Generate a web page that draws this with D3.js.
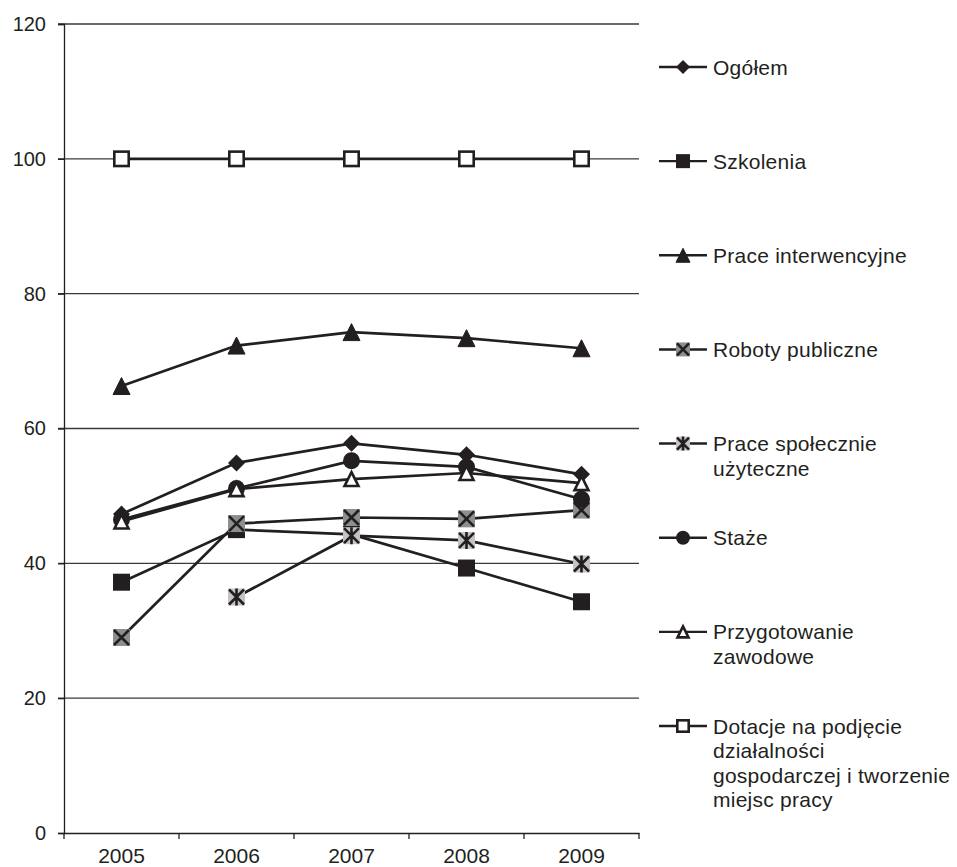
<!DOCTYPE html>
<html>
<head>
<meta charset="utf-8">
<script src="https://cdn.jsdelivr.net/npm/d3@7"></script>
<style>
  body { margin: 0; background: #fff; }
  svg { display: block; font-family: "Liberation Sans", Arial, sans-serif; }
  .grid line { stroke: #3a3a3a; stroke-width: 1.3; }
  .tick text { fill: #231f20; }
</style>
</head>
<body>
<svg width="957" height="867"></svg>
<script>
const years = ["2005", "2006", "2007", "2008", "2009"];
const yTicks = [0, 20, 40, 60, 80, 100, 120];

const seriesNames = [
  "Ogółem", "Szkolenia", "Prace interwencyjne", "Roboty publiczne",
  "Prace społecznie użyteczne", "Staże", "Przygotowanie zawodowe",
  "Dotacje na podjęcie działalności gospodarczej i tworzenie miejsc pracy"
];
// legend text as it wraps in the picture
const legendLines = [
  ["Ogółem"], ["Szkolenia"], ["Prace interwencyjne"], ["Roboty publiczne"],
  ["Prace społecznie", "użyteczne"], ["Staże"], ["Przygotowanie", "zawodowe"],
  ["Dotacje na podjęcie", "działalności", "gospodarczej i tworzenie", "miejsc pracy"]
];

const ogolem       = [47.3, 54.9, 57.8, 56.1, 53.2];
const szkolenia    = [37.2, 45.0, 44.3, 39.3, 34.3];
const interwencyjne= [66.3, 72.3, 74.3, 73.4, 71.9];
const roboty       = [29.0, 45.9, 46.8, 46.6, 47.9];
const spoleczne    = [null, 35.0, 44.1, 43.4, 39.9];
const staze        = [46.5, 51.1, 55.2, 54.3, 49.5];
const przygotowanie= [46.2, 51.0, 52.5, 53.4, 51.9];
const dotacje      = [100, 100, 100, 100, 100];

const seriesValues = [ogolem, szkolenia, interwencyjne, roboty, spoleczne, staze, przygotowanie, dotacje];
const markerTypes = ["diamond", "square", "triangle", "xbox", "star", "circle", "triangleOpen", "squareOpen"];

const ink = "#231f20";
const svg = d3.select("svg");

const x = d3.scaleBand().domain(years).range([64, 639]);
const y = d3.scaleLinear().domain([0, 120]).range([833, 24]);

// gridlines
svg.append("g").attr("class", "grid")
  .selectAll("line").data(yTicks.filter(d => d > 0)).enter().append("line")
  .attr("x1", 58).attr("x2", 639)
  .attr("y1", d => y(d)).attr("y2", d => y(d));

// y axis
const yAxis = svg.append("g").attr("transform", "translate(64,0)")
  .call(d3.axisLeft(y).tickValues(yTicks).tickSize(6).tickPadding(12));
yAxis.select(".domain").attr("stroke", ink).attr("stroke-width", 1.3);
yAxis.selectAll(".tick line").attr("stroke", ink).attr("stroke-width", 1.3);
yAxis.selectAll(".tick text").attr("font-size", 20).attr("font-family", "Liberation Sans, Arial, sans-serif");

// x axis: ticks sit between categories
const xAxis = svg.append("g").attr("transform", "translate(0,833)")
  .call(d3.axisBottom(x).tickSize(0).tickPadding(15));
xAxis.select(".domain").attr("stroke", ink).attr("stroke-width", 1.3);
xAxis.selectAll(".tick text").attr("font-size", 21).attr("font-family", "Liberation Sans, Arial, sans-serif");
xAxis.selectAll(".sep").data(years.concat(["end"])).enter().append("line")
  .attr("class", "sep")
  .attr("x1", (d, i) => 64 + i * x.bandwidth()).attr("x2", (d, i) => 64 + i * x.bandwidth())
  .attr("y1", 0).attr("y2", 6)
  .attr("stroke", ink).attr("stroke-width", 1.3);

function drawMarker(g, type, s) {
  const h = s / 2;
  if (type === "diamond") {
    g.append("path").attr("d", `M0,${-h}L${h},0L0,${h}L${-h},0Z`).attr("fill", ink);
  } else if (type === "square") {
    g.append("rect").attr("x", -h).attr("y", -h).attr("width", s).attr("height", s).attr("fill", ink);
  } else if (type === "triangle" || type === "triangleOpen") {
    const open = type === "triangleOpen";
    const hh = open ? h - 1.5 : h;
    g.append("path").attr("d", `M0,${-hh}L${hh},${hh}L${-hh},${hh}Z`)
      .attr("fill", open ? "#fff" : ink)
      .attr("stroke", ink).attr("stroke-width", open ? 2.6 : 1);
  } else if (type === "xbox" || type === "star") {
    g.append("rect").attr("x", -h).attr("y", -h).attr("width", s).attr("height", s)
      .attr("fill", type === "xbox" ? "#8e8e8e" : "#c4c4c4");
    const k = h - 1;
    g.append("path").attr("d", `M${-k},${-k}L${k},${k}M${-k},${k}L${k},${-k}` + (type === "star" ? `M0,${-h}L0,${h}` : ""))
      .attr("stroke", ink).attr("stroke-width", 2.6).attr("fill", "none");
  } else if (type === "circle") {
    g.append("circle").attr("r", h).attr("fill", ink);
  } else if (type === "squareOpen") {
    g.append("rect").attr("x", -h + 1.3).attr("y", -h + 1.3).attr("width", s - 2.6).attr("height", s - 2.6)
      .attr("fill", "#fff").attr("stroke", ink).attr("stroke-width", 2.6);
  }
}

const line = d3.line()
  .defined(d => d.v !== null)
  .x(d => x(d.year) + x.bandwidth() / 2)
  .y(d => y(d.v));

seriesValues.forEach((vals, si) => {
  const pts = years.map((yr, i) => ({ year: yr, v: vals[i] }));
  const g = svg.append("g");
  g.append("path").datum(pts).attr("d", line)
    .attr("fill", "none").attr("stroke", ink).attr("stroke-width", 2.7);
  g.selectAll(".m").data(pts.filter(p => p.v !== null)).enter().append("g")
    .attr("transform", p => `translate(${x(p.year) + x.bandwidth() / 2},${y(p.v)})`)
    .each(function () { drawMarker(d3.select(this), markerTypes[si], 17); });
});

// legend
const legendY = d3.scaleLinear().domain([0, 7]).range([67, 726]);
const legend = svg.append("g");
seriesNames.forEach((name, i) => {
  const g = legend.append("g").attr("transform", `translate(0,${legendY(i)})`);
  g.append("line").attr("x1", 659).attr("x2", 707).attr("y1", 0).attr("y2", 0)
    .attr("stroke", ink).attr("stroke-width", 2.4);
  const m = g.append("g").attr("transform", "translate(683,0)");
  drawMarker(m, markerTypes[i], 14);
  const t = g.append("text").attr("x", 713).attr("y", 7.5)
    .attr("font-size", 21).attr("fill", ink).attr("letter-spacing", 0.25);
  legendLines[i].forEach((ln, j) => {
    t.append("tspan").attr("x", 713).attr("dy", j === 0 ? 0 : 24.5).text(ln);
  });
});
</script>
</body>
</html>
